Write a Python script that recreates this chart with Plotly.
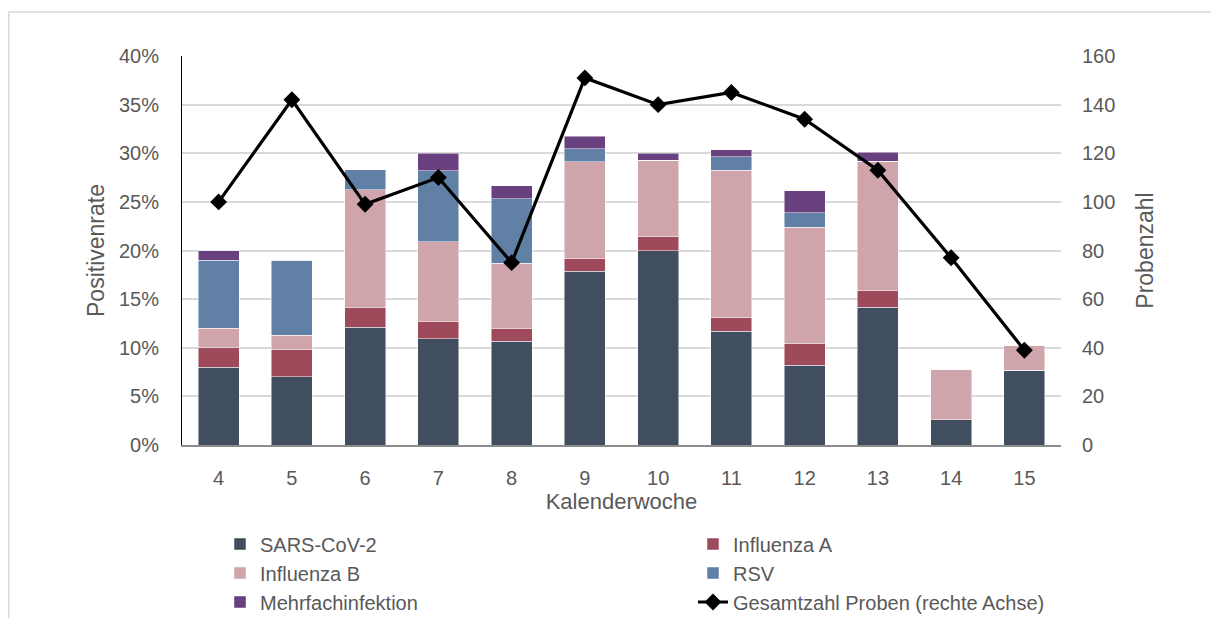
import plotly.graph_objects as go

weeks = ["4", "5", "6", "7", "8", "9", "10", "11", "12", "13", "14", "15"]
sars = [8.0, 7.04, 12.12, 10.91, 10.67, 17.88, 20.0, 11.72, 8.21, 14.16, 2.60, 7.69]
infl_a = [2.0, 2.82, 2.02, 1.82, 1.33, 1.32, 1.43, 1.38, 2.24, 1.77, 0, 0]
infl_b = [2.0, 1.41, 12.12, 8.18, 6.67, 9.93, 7.86, 15.17, 11.94, 13.27, 5.19, 2.56]
rsv = [7.0, 7.75, 2.02, 7.27, 6.67, 1.32, 0, 1.38, 1.49, 0, 0, 0]
mehrfach = [1.0, 0, 0, 1.82, 1.33, 1.32, 0.71, 0.69, 2.24, 0.88, 0, 0]
proben = [100, 142, 99, 110, 75, 151, 140, 145, 134, 113, 77, 39]

FONT = "Liberation Sans"
GREY = "#595959"

fig = go.Figure()
series = [
    ("SARS-CoV-2", sars, "#404e5f"),
    ("Influenza A", infl_a, "#9e4a5b"),
    ("Influenza B", infl_b, "#cfa5ab"),
    ("RSV", rsv, "#6080a6"),
    ("Mehrfachinfektion", mehrfach, "#6a4180"),
]
for name, vals, col in series:
    fig.add_trace(go.Bar(
        x=weeks, y=vals, name=name,
        marker=dict(color=col, line=dict(color="rgba(255,255,255,0.6)", width=0.8)),
    ))

fig.add_trace(go.Scatter(
    x=weeks, y=proben, name="Gesamtzahl Proben (rechte Achse)", yaxis="y2",
    mode="lines+markers",
    line=dict(color="black", width=3.2),
    marker=dict(symbol="diamond", size=13, color="black"),
))

# the page body adds an 8px offset; figure coordinates are screen minus 8
OFF = 8
W, H = 1219 - OFF, 618 - OFF
L, T = 182 - OFF, 56 - OFF
R, B = W - (1061 - OFF), H - (445 - OFF)
pw, ph = W - L - R, H - T - B

def px(x):
    return (x - OFF - L) / pw

def py(y):
    return (H - B - (y - OFF)) / ph

fig.update_layout(
    width=W, height=H,
    margin=dict(l=L, r=R, t=T, b=B, autoexpand=False),
    barmode="stack", bargap=0.44,
    plot_bgcolor="white", paper_bgcolor="white",
    font=dict(family=FONT, size=20, color=GREY),
    xaxis=dict(
        range=[-0.5, len(weeks) - 0.5],
        showline=True, linecolor="#8c8c8c", linewidth=1.5,
        ticks="", ticklabelstandoff=14,
        title=dict(text="Kalenderwoche", standoff=0, font=dict(size=22)),
        tickfont=dict(size=20),
    ),
    yaxis=dict(
        range=[0, 40], dtick=5, ticksuffix="%",
        showline=True, linecolor="black", linewidth=1,
        showgrid=True, gridcolor="#d9d9d9", gridwidth=1.5,
        zeroline=False, ticks="", ticklabelstandoff=18,
        title=dict(text="Positivenrate", standoff=7, font=dict(size=23)),
    ),
    yaxis2=dict(
        range=[0, 160], dtick=20, overlaying="y", side="right",
        showgrid=False, zeroline=False, showline=False, ticks="",
        ticklabelstandoff=20,
        title=dict(text="Probenzahl", standoff=22, font=dict(size=23)),
    ),
    legend=dict(
        orientation="h",
        x=px(1166), xanchor="right",
        y=py(524.5), yanchor="top",
        entrywidth=428, entrywidthmode="pixels",
        font=dict(size=20, color=GREY), traceorder="normal",
        bgcolor="rgba(0,0,0,0)",
    ),
    showlegend=True,
)

# light outer frame (top and left edges)
fig.add_shape(type="line", xref="paper", yref="paper",
              x0=px(8.5), x1=px(1219), y0=py(12), y1=py(12),
              line=dict(color="#d9d9d9", width=1.5))
fig.add_shape(type="line", xref="paper", yref="paper",
              x0=px(8.75), x1=px(8.75), y0=py(12), y1=py(618),
              line=dict(color="#d9d9d9", width=1.5))

fig.write_html("out.html")
